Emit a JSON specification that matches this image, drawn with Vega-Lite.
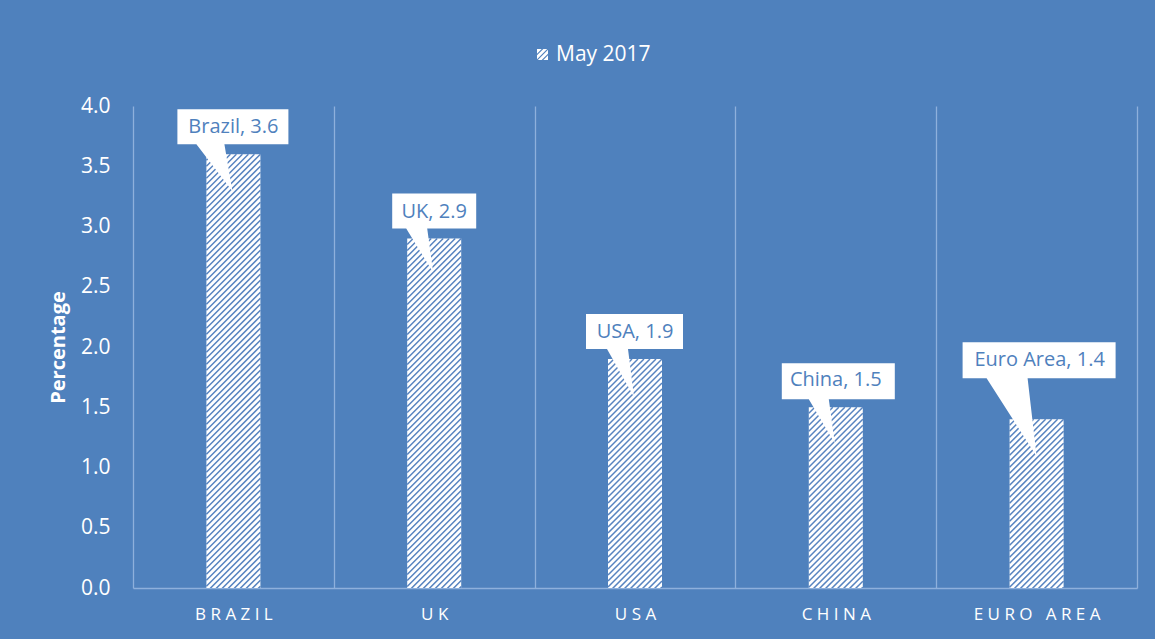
{
  "$schema": "https://vega.github.io/schema/vega-lite/v6.json",
  "width": 1004,
  "height": 482,
  "autosize": {"type": "none"},
  "padding": {"left": 133, "top": 106, "right": 18, "bottom": 51},
  "background": "#4F81BD",
  "config": {
    "view": {"stroke": null},
    "font": "Open Sans"
  },
  "data": {
    "values": [
      {"country": "Brazil", "value": 3.6},
      {"country": "UK", "value": 2.9},
      {"country": "USA", "value": 1.9},
      {"country": "China", "value": 1.5},
      {"country": "Euro Area", "value": 1.4}
    ]
  },
  "encoding": {
    "x": {
      "field": "country",
      "type": "nominal",
      "sort": null,
      "scale": {"paddingInner": 0, "paddingOuter": 0},
      "axis": {
        "title": null,
        "labelAngle": 0,
        "ticks": false,
        "domain": true,
        "domainColor": "#8eb0dc",
        "domainWidth": 1.3,
        "grid": true,
        "gridColor": "#8eb0dc",
        "gridWidth": 1.3,
        "tickBand": "extent",
        "labelColor": "#ffffff",
        "labelFont": "Open Sans",
        "labelFontSize": 17,
        "labelPadding": 18,
        "labelExpr": "trim(replace(upper(datum.label), /(.)/g, '$1\u00a0'))"
      }
    },
    "y": {
      "field": "value",
      "type": "quantitative",
      "scale": {"domain": [0, 4], "nice": false},
      "axis": {
        "title": "Percentage",
        "titleColor": "#ffffff",
        "titleFont": "Open Sans",
        "titleFontSize": 20,
        "titleFontWeight": "bold",
        "titlePadding": 12,
        "values": [0, 0.5, 1, 1.5, 2, 2.5, 3, 3.5, 4],
        "format": ".1f",
        "labelColor": "#ffffff",
        "labelFont": "Open Sans",
        "labelFontSize": 21,
        "labelPadding": 23,
        "ticks": false,
        "domain": false,
        "grid": false
      }
    }
  },
  "layer": [
    {
      "mark": {"type": "bar", "width": 54},
      "encoding": {
        "fill": {
          "datum": "May 2017",
          "type": "nominal",
          "scale": {"range": ["#ffffff"]},
          "legend": {
            "title": null,
            "orient": "none",
            "legendX": 399,
            "legendY": -62,
            "padding": 0,
            "symbolType": "M-1,-1L-0.15,-1L-1,-0.15ZM0.15,-1L0.85,-1L-1,0.85L-1,0.15ZM1,-0.85L1,-0.15L-0.15,1L-0.85,1ZM1,0.15L1,1L0.15,1Z",
            "symbolSize": 121,
            "symbolFillColor": "#ffffff",
            "symbolStrokeWidth": 0,
            "labelColor": "#ffffff",
            "labelFont": "Open Sans",
            "labelFontSize": 21,
            "labelOffset": 3
          }
        }
      }
    },
    {
      "mark": {
        "type": "point",
        "clip": true,
        "filled": false,
        "size": 4,
        "opacity": 1,
        "stroke": "#5884c0",
        "strokeWidth": 1.5,
        "shape": "M-27,6l6,-6M-27,12l12,-12M-27,18l18,-18M-27,24l24,-24M-27,30l30,-30M-27,36l36,-36M-27,42l42,-42M-27,48l48,-48M-27,54l54,-54m-54,60l54,-54m-54,60l54,-54m-54,60l54,-54m-54,60l54,-54m-54,60l54,-54m-54,60l54,-54m-54,60l54,-54m-54,60l54,-54m-54,60l54,-54m-54,60l54,-54m-54,60l54,-54m-54,60l54,-54m-54,60l54,-54m-54,60l54,-54m-54,60l54,-54m-54,60l54,-54m-54,60l54,-54m-54,60l54,-54m-54,60l54,-54m-54,60l54,-54m-54,60l54,-54m-54,60l54,-54m-54,60l54,-54m-54,60l54,-54m-54,60l54,-54m-54,60l54,-54m-54,60l54,-54m-54,60l54,-54m-54,60l54,-54m-54,60l54,-54m-54,60l54,-54m-54,60l54,-54m-54,60l54,-54m-54,60l54,-54m-54,60l54,-54m-54,60l54,-54m-54,60l54,-54m-54,60l54,-54m-54,60l54,-54m-54,60l54,-54m-54,60l54,-54m-54,60l54,-54m-54,60l54,-54m-54,60l54,-54m-54,60l54,-54m-54,60l54,-54m-54,60l54,-54m-54,60l54,-54m-54,60l54,-54m-54,60l54,-54m-54,60l54,-54m-54,60l54,-54m-54,60l54,-54m-54,60l54,-54m-54,60l54,-54m-54,60l54,-54m-54,60l54,-54m-54,60l54,-54m-54,60l54,-54m-54,60l54,-54m-54,60l54,-54m-54,60l54,-54m-54,60l54,-54m-54,60l54,-54m-54,60l54,-54m-54,60l54,-54m-54,60l54,-54m-54,60l54,-54m-54,60l54,-54m-54,60l54,-54m-54,60l54,-54m-54,60l54,-54m-54,60l54,-54m-54,60l54,-54m-54,60l54,-54m-54,60l54,-54m-54,60l54,-54m-54,60l54,-54m-54,60l54,-54m-54,60l54,-54m-54,60l54,-54m-54,60l54,-54m-54,60l54,-54m-54,60l54,-54m-54,60l54,-54m-54,60l54,-54m-54,60l54,-54m-54,60l54,-54m-54,60l54,-54"
      },
      "encoding": {}
    },
    {
      "mark": {
        "type": "point",
        "filled": true,
        "size": 4,
        "opacity": 1,
        "fill": "#ffffff",
        "strokeWidth": 0
      },
      "encoding": {
        "shape": {
          "field": "country",
          "type": "nominal",
          "legend": null,
          "scale": {
            "domain": ["Brazil", "UK", "USA", "China", "Euro Area"],
            "range": [
              "M-56,-45H55V-10H-9L-1,37L-37,-10H-56Z",
              "M-42,-45H42V-10H-7L-1,34L-28,-10H-42Z",
              "M-49,-45H48V-10H-7L-1,38L-28,-10H-49Z",
              "M-54,-44H59V-8H-7L-1,36L-27,-8H-54Z",
              "M-74,-77H79V-41H-9L0,37L-50,-41H-74Z"
            ]
          }
        }
      }
    },
    {
      "transform": [
        {"filter": "datum.country !== 'Euro Area'"},
        {"calculate": "datum.country + ', ' + format(datum.value, '.1f')", "as": "label"}
      ],
      "mark": {
        "type": "text",
        "align": "center",
        "baseline": "middle",
        "dy": -27,
        "font": "Open Sans",
        "fontSize": 20,
        "color": "#4F81BD"
      },
      "encoding": {
        "text": {"field": "label", "type": "nominal"}
      }
    },
    {
      "transform": [
        {"filter": "datum.country === 'Euro Area'"},
        {"calculate": "datum.country + ', ' + format(datum.value, '.1f')", "as": "label"}
      ],
      "mark": {
        "type": "text",
        "align": "center",
        "baseline": "middle",
        "dy": -59,
        "dx": 3,
        "font": "Open Sans",
        "fontSize": 20,
        "color": "#4F81BD"
      },
      "encoding": {
        "text": {"field": "label", "type": "nominal"}
      }
    }
  ]
}
